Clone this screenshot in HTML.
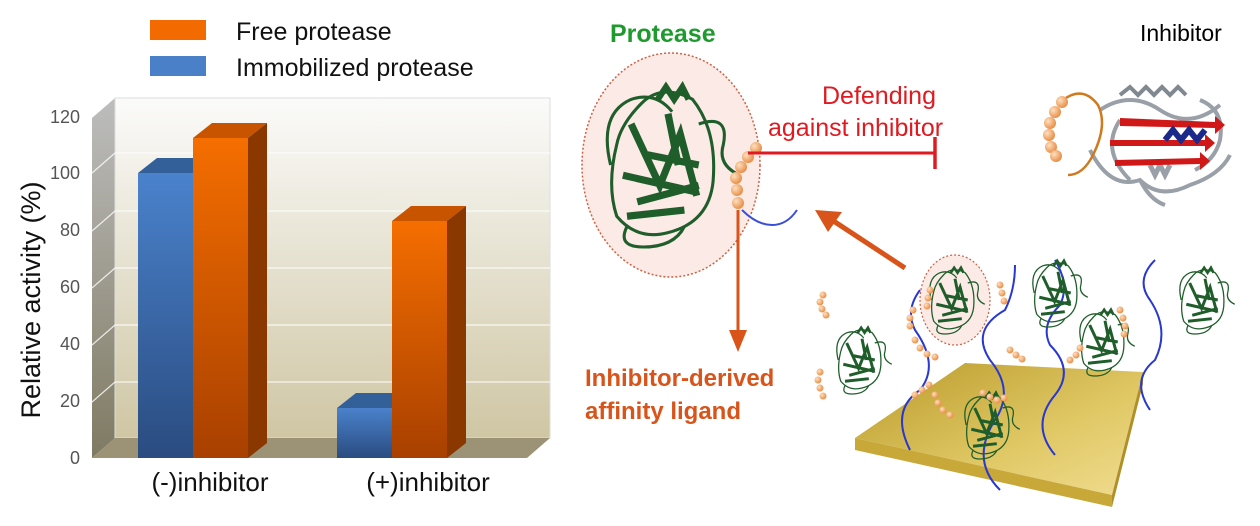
<!DOCTYPE html>
<html><head><meta charset="utf-8"><style>
html,body{margin:0;padding:0;background:#fff;}
svg{display:block;font-family:"Liberation Sans",sans-serif;}
</style></head><body>
<svg width="1260" height="526" viewBox="0 0 1260 526" xmlns="http://www.w3.org/2000/svg">
<defs>
<linearGradient id="wall" x1="0" y1="0" x2="0" y2="1"><stop offset="0" stop-color="#fbfbfa"/><stop offset="1" stop-color="#cfc6a4"/></linearGradient>
<linearGradient id="side" x1="0" y1="0" x2="0" y2="1"><stop offset="0" stop-color="#bdbdbd"/><stop offset="1" stop-color="#7f7a62"/></linearGradient>
<linearGradient id="blue" x1="0" y1="0" x2="0" y2="1"><stop offset="0" stop-color="#4a82cc"/><stop offset="1" stop-color="#2a4c80"/></linearGradient>
<linearGradient id="orange" x1="0" y1="0" x2="0" y2="1"><stop offset="0" stop-color="#f56e00"/><stop offset="1" stop-color="#a84000"/></linearGradient>
<linearGradient id="gold" x1="0" y1="0" x2="1" y2="1"><stop offset="0" stop-color="#b99a2a"/><stop offset="0.6" stop-color="#e0c865"/><stop offset="1" stop-color="#f0dc90"/></linearGradient>
<radialGradient id="bead" cx="0.35" cy="0.35" r="0.7"><stop offset="0" stop-color="#fde0c0"/><stop offset="1" stop-color="#e88a40"/></radialGradient>
<g id="prot" fill="none" stroke="#1f5e2a" stroke-width="1.5">
<path d="M-5 -32 l4 -6 l4 6 l4 -6 l3 6" stroke-width="3"/>
<path d="M-25 -10 q-5 20 0 35 q10 12 25 8 q20 -5 22 -25 q2 -25 -10 -40 q-15 -8 -25 2 q-10 10 -12 20z"/>
<path d="M-18 -20 l14 30 l10 -25 l8 30 M-22 5 l35 8 M-15 18 l30 -8 M-10 -5 l25 5 M-20 25 l28 -3 M0 -25 l5 25" stroke-width="3.5"/>
<path d="M-28 0 q-6 -25 10 -32 q12 -4 20 6 M15 -20 q15 -5 12 10 q-3 10 8 15 M-20 30 q-5 10 8 10 q15 0 20 -10"/>
</g>
</defs>

<!-- Legend -->
<rect x="150" y="20" width="56" height="20" fill="#f26a00"/>
<rect x="150" y="56" width="56" height="20" fill="#4a80c8"/>
<text x="236" y="40" font-size="25" fill="#111">Free protease</text>
<text x="236" y="76" font-size="25" fill="#111">Immobilized protease</text>

<!-- Chart -->
<polygon points="92,118 115,98 115,438 92,458" fill="url(#side)"/>
<rect x="115" y="98" width="435" height="340" fill="url(#wall)" stroke="#ddd"/>
<polygon points="92,458 115,438 550,438 527,458" fill="#9c9275"/>
<g stroke="#fff" stroke-width="1.2" opacity="0.8">
<line x1="115" y1="153" x2="550" y2="153"/><line x1="115" y1="211" x2="550" y2="211"/>
<line x1="115" y1="268" x2="550" y2="268"/><line x1="115" y1="325" x2="550" y2="325"/>
<line x1="115" y1="382" x2="550" y2="382"/>
<line x1="92" y1="173" x2="115" y2="153"/><line x1="92" y1="231" x2="115" y2="211"/>
<line x1="92" y1="288" x2="115" y2="268"/><line x1="92" y1="345" x2="115" y2="325"/>
<line x1="92" y1="402" x2="115" y2="382"/>
</g>
<g font-size="18" fill="#555" text-anchor="end">
<text x="80" y="464">0</text><text x="80" y="407">20</text><text x="80" y="350">40</text>
<text x="80" y="293">60</text><text x="80" y="236">80</text><text x="80" y="179">100</text><text x="80" y="123">120</text>
</g>
<text transform="translate(40,300) rotate(-90)" font-size="27" text-anchor="middle" fill="#111">Relative activity (%)</text>
<polygon points="138,173 157,158 212,158 193,173" fill="#34609a"/>
<rect x="138" y="173" width="55" height="285" fill="url(#blue)"/>
<polygon points="193,138 212,123 267,123 248,138" fill="#c85400"/>
<polygon points="248,138 267,123 267,443 248,458" fill="#8a3800"/>
<rect x="193" y="138" width="55" height="320" fill="url(#orange)"/>
<polygon points="337,408 356,393 411,393 392,408" fill="#34609a"/>
<rect x="337" y="408" width="55" height="50" fill="url(#blue)"/>
<polygon points="392,221 411,206 466,206 447,221" fill="#c85400"/>
<polygon points="447,221 466,206 466,443 447,458" fill="#8a3800"/>
<rect x="392" y="221" width="55" height="237" fill="url(#orange)"/>
<text x="210" y="491" font-size="26" text-anchor="middle" fill="#111">(-)inhibitor</text>
<text x="428" y="491" font-size="26" text-anchor="middle" fill="#111">(+)inhibitor</text>

<!-- Right diagram -->
<text x="610" y="42" font-size="25" font-weight="bold" fill="#1f9a2e">Protease</text>
<text x="1140" y="41" font-size="23" fill="#000">Inhibitor</text>
<ellipse cx="671" cy="165" rx="89" ry="112" fill="#fbeae6" stroke="#d06040" stroke-width="1.5" stroke-dasharray="2,2"/>
<use href="#prot" transform="translate(668,165) scale(2.05)"/>
<path d="M742 210 q15 15 30 15 q15 0 25 -15" fill="none" stroke="#3a4fd8" stroke-width="2"/>
<g fill="url(#bead)">
<circle cx="756" cy="148" r="6"/><circle cx="748" cy="157" r="6"/><circle cx="741" cy="167" r="6"/>
<circle cx="736" cy="178" r="6"/><circle cx="737" cy="190" r="6"/><circle cx="738" cy="203" r="6"/>
</g>
<line x1="748" y1="153" x2="935" y2="153" stroke="#e01a20" stroke-width="3"/>
<line x1="935" y1="137" x2="935" y2="169" stroke="#e01a20" stroke-width="3.5"/>
<text x="822" y="104" font-size="25" fill="#e01a20">Defending</text>
<text x="768" y="136" font-size="25" fill="#e01a20">against inhibitor</text>
<!-- inhibitor -->
<g fill="none" stroke="#9aa0a8" stroke-width="4">
<path d="M1100 110 q30 -20 60 0 q30 20 60 -5 M1090 150 q20 40 50 30 q20 20 50 5 q30 -10 40 -30 M1120 120 q-20 30 10 60 M1140 180 q10 20 25 25 M1200 100 q25 10 20 40 q-5 20 -25 30"/>
<path d="M1120 95 l10 -8 l8 8 l8 -8 l8 8 l8 -8 l8 8 l8 -8 l8 8" stroke="#808890"/>
<path d="M1150 165 l5 10 l5 -10 l5 10 l5 -10" stroke="#9aa0a8" stroke-width="5"/>
</g>
<path d="M1063 100 q20 -15 35 5 q10 20 -5 50 q-10 20 -25 20" fill="none" stroke="#d07a20" stroke-width="2.5"/>
<g fill="#d01818">
<polygon points="1120,118 1215,122 1215,116 1225,125 1215,134 1215,128 1120,126"/>
<polygon points="1110,140 1205,140 1205,134 1215,143 1205,152 1205,146 1110,146"/>
<polygon points="1115,160 1200,158 1200,152 1210,161 1200,170 1200,164 1115,166"/>
</g>
<path d="M1165 140 l8 -10 l8 10 l8 -10 l8 10 l8 -10" fill="none" stroke="#1a2a8a" stroke-width="6"/>
<g fill="url(#bead)">
<circle cx="1062" cy="102" r="6"/><circle cx="1055" cy="112" r="6"/><circle cx="1050" cy="123" r="6"/>
<circle cx="1049" cy="135" r="6"/><circle cx="1051" cy="147" r="6"/><circle cx="1056" cy="156" r="6"/>
</g>
<!-- orange arrows -->
<line x1="738" y1="210" x2="738" y2="332" stroke="#d9541a" stroke-width="3"/>
<polygon points="729,330 747,330 738,352" fill="#d9541a"/>
<text x="585" y="386" font-size="24" font-weight="bold" fill="#d9541a">Inhibitor-derived</text>
<text x="585" y="419" font-size="24" font-weight="bold" fill="#d9541a">affinity ligand</text>
<line x1="905" y1="268" x2="832" y2="220" stroke="#d9541a" stroke-width="5"/>
<polygon points="815,210 842,212 828,232" fill="#d9541a"/>
<!-- gold plate -->
<polygon points="855,438 965,363 1143,372 1112,495" fill="url(#gold)"/>
<polygon points="855,438 1112,495 1112,507 855,450" fill="#c9a83a"/>
<polygon points="1112,495 1143,372 1143,384 1112,507" fill="#b08e28"/>
<!-- immobilized proteins -->
<ellipse cx="955" cy="300" rx="35" ry="45" fill="#fbeae6" stroke="#d06040" stroke-width="1.2" stroke-dasharray="2,2"/>
<g fill="none" stroke="#2838d0" stroke-width="2">
<path d="M910 450 q-20 -40 10 -60 q20 -25 -5 -60 q-10 -20 5 -40"/>
<path d="M1000 490 q-30 -30 -5 -70 q20 -30 -5 -60 q-20 -30 15 -50 q10 -20 10 -45"/>
<path d="M1055 455 q-25 -30 0 -60 q20 -25 -5 -50 q-10 -20 10 -40 q10 -20 -5 -45"/>
<path d="M1150 410 q-20 -30 5 -50 q15 -30 -5 -60 q-15 -20 5 -40"/>
</g>
<use href="#prot" transform="translate(862,360) scale(0.85)"/>
<use href="#prot" transform="translate(955,300) scale(0.85)"/>
<use href="#prot" transform="translate(1058,293) scale(0.85)"/>
<use href="#prot" transform="translate(1105,342) scale(0.85)"/>
<use href="#prot" transform="translate(1205,300) scale(0.85)"/>
<use href="#prot" transform="translate(990,425) scale(0.85)"/>
<g fill="url(#bead)">
<circle cx="823" cy="295" r="3.5"/><circle cx="820" cy="302" r="3.5"/><circle cx="822" cy="309" r="3.5"/><circle cx="826" cy="315" r="3.5"/>
<circle cx="820" cy="372" r="3.5"/><circle cx="818" cy="380" r="3.5"/><circle cx="820" cy="388" r="3.5"/><circle cx="823" cy="396" r="3.5"/>
<circle cx="915" cy="395" r="3.5"/><circle cx="922" cy="390" r="3.5"/><circle cx="929" cy="385" r="3.5"/>
<circle cx="913" cy="310" r="3.5"/><circle cx="910" cy="318" r="3.5"/><circle cx="910" cy="326" r="3.5"/>
<circle cx="915" cy="340" r="3.5"/><circle cx="920" cy="348" r="3.5"/><circle cx="927" cy="354" r="3.5"/><circle cx="935" cy="357" r="3.5"/>
<circle cx="935" cy="395" r="3.5"/><circle cx="938" cy="403" r="3.5"/><circle cx="943" cy="410" r="3.5"/><circle cx="950" cy="415" r="3.5"/>
<circle cx="930" cy="290" r="3.5"/><circle cx="928" cy="298" r="3.5"/><circle cx="927" cy="306" r="3.5"/>
<circle cx="1000" cy="285" r="3.5"/><circle cx="1002" cy="293" r="3.5"/><circle cx="1004" cy="301" r="3.5"/>
<circle cx="983" cy="393" r="3.5"/><circle cx="990" cy="397" r="3.5"/><circle cx="997" cy="400" r="3.5"/><circle cx="1004" cy="398" r="3.5"/>
<circle cx="1010" cy="350" r="3.5"/><circle cx="1016" cy="355" r="3.5"/><circle cx="1022" cy="359" r="3.5"/>
<circle cx="1070" cy="360" r="3.5"/><circle cx="1076" cy="355" r="3.5"/><circle cx="1080" cy="348" r="3.5"/>
<circle cx="1120" cy="310" r="3.5"/><circle cx="1123" cy="318" r="3.5"/><circle cx="1125" cy="326" r="3.5"/><circle cx="1124" cy="334" r="3.5"/>
</g>
</svg>
</body></html>
